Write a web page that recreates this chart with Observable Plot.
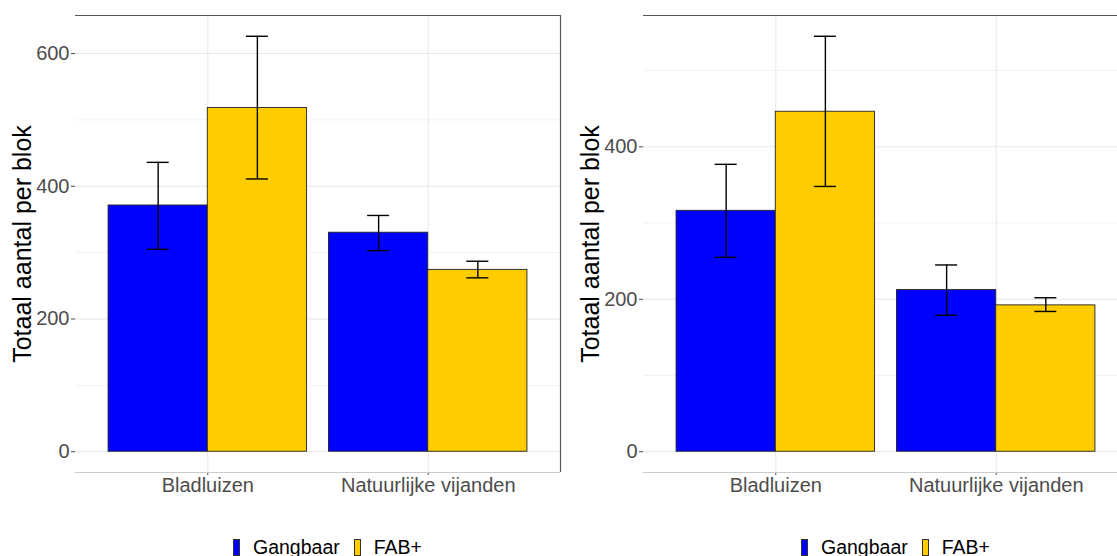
<!DOCTYPE html>
<html><head><meta charset="utf-8">
<script src="https://cdn.jsdelivr.net/npm/d3@7"></script>
<script src="https://cdn.jsdelivr.net/npm/@observablehq/plot@0.6"></script>
<style>
html,body{margin:0;padding:0;background:#fff;overflow:hidden;width:1117px;height:556px;}
#wrap{display:flex;flex-wrap:nowrap;width:1136px;}
.fig{width:568px;height:556px;flex:none;position:relative;}
.fig svg{display:block;}
.legend{position:absolute;left:233px;top:536px;height:22px;display:flex;align-items:center;font:19.5px "Liberation Sans",Arial,sans-serif;color:#000;white-space:nowrap;}
.key{display:inline-block;width:5px;height:15px;border:1px solid #333;margin-right:13px;}
.lab{margin-right:14px;}
</style></head><body><div id="wrap"></div>
<script>
const categories = ["Bladluizen", "Natuurlijke vijanden"];
const series = ["Gangbaar", "FAB+"];
const colors = ["#0000FF", "#FFCC00"];
const yTitle = "Totaal aantal per blok";

// Panel A (left)
const aGangbaarMean = [371, 330], aGangbaarLow = [305, 303], aGangbaarHigh = [436, 356];
const aFabMean = [518, 274], aFabLow = [411, 262], aFabHigh = [626, 287];
const aTicks = [0, 200, 400, 600], aMinor = [100, 300, 500];

// Panel B (right)
const bGangbaarMean = [316, 212], bGangbaarLow = [255, 179], bGangbaarHigh = [377, 245];
const bFabMean = [446, 192], bFabLow = [348, 184], bFabHigh = [545, 202];
const bTicks = [0, 200, 400], bMinor = [100, 300, 500];

const dodge = 0.9, capW = 0.1;

function rowsFor(gm, gl, gh, fm, fl, fh) {
  const rows = [];
  const vals = [[gm, gl, gh], [fm, fl, fh]];
  categories.forEach((c, i) => {
    series.forEach((s, j) => {
      const x1 = i + 1 - dodge / 2 + j * dodge / 2;
      rows.push({cat: c, series: s, x1, x2: x1 + dodge / 2, xc: x1 + dodge / 4,
        mean: vals[j][0][i], lo: vals[j][1][i], hi: vals[j][2][i]});
    });
  });
  return rows;
}

function makeFig(rows, ticks, minor) {
  const max = d3.max(rows, d => d.hi);
  const ydom = [-0.05 * max, 1.05 * max];
  const xdom = [0.4, categories.length + 0.6];
  const plot = Plot.plot({
    width: 568, height: 500,
    marginLeft: 75, marginRight: 8, marginTop: 15, marginBottom: 28,
    style: {fontFamily: '"Liberation Sans", Arial, sans-serif', fontSize: "17px", color: "#4d4d4d", background: "#fff"},
    x: {domain: xdom, ticks: categories.map((c, i) => i + 1), tickFormat: d => categories[d - 1], tickSize: 3, tickPadding: 2, label: null},
    y: {domain: ydom, ticks: ticks, tickSize: 4, tickPadding: 2, label: null},
    color: {domain: series, range: colors},
    marks: [
      Plot.ruleY(minor.filter(v => v < ydom[1]), {stroke: "#f2f2f2", strokeWidth: 1}),
      Plot.ruleY(ticks, {stroke: "#e6e6e6", strokeWidth: 1}),
      Plot.ruleX(categories.map((c, i) => i + 1), {stroke: "#e6e6e6", strokeWidth: 1}),
      Plot.ruleY([ydom[0]], {stroke: "#cccccc", strokeWidth: 1.2}),
      Plot.ruleY([ydom[1]], {stroke: "#555555", strokeWidth: 1.2}),
      Plot.ruleX([xdom[1]], {stroke: "#555555", strokeWidth: 1.2}),
      Plot.rect(rows, {x1: "x1", x2: "x2", y1: d => 0, y2: "mean", fill: "series", stroke: "#222", strokeWidth: 0.9}),
      Plot.ruleX(rows, {x: "xc", y1: "lo", y2: "hi", stroke: "#000", strokeWidth: 1.4}),
      Plot.ruleY(rows, {y: "hi", x1: d => d.xc - capW / 2, x2: d => d.xc + capW / 2, stroke: "#000", strokeWidth: 1.4}),
      Plot.ruleY(rows, {y: "lo", x1: d => d.xc - capW / 2, x2: d => d.xc + capW / 2, stroke: "#000", strokeWidth: 1.4}),
      Plot.text([yTitle], {text: d => d, frameAnchor: "left", textAnchor: "middle", rotate: -90, dx: -53, fontSize: 25, fill: "#000"})
    ]
  });
  d3.select(plot).selectAll('g[aria-label^="x-axis"] text').attr("font-size", 20);
  d3.select(plot).selectAll('g[aria-label^="y-axis"] text').attr("font-size", 20);
  const fig = document.createElement("div");
  fig.className = "fig";
  fig.appendChild(plot);
  const leg = document.createElement("div");
  leg.className = "legend";
  series.forEach((s, j) => {
    const k = document.createElement("span");
    k.className = "key";
    k.style.background = colors[j];
    const t = document.createElement("span");
    t.className = "lab";
    t.textContent = s;
    leg.appendChild(k); leg.appendChild(t);
  });
  fig.appendChild(leg);
  return fig;
}

const wrap = document.getElementById("wrap");
wrap.appendChild(makeFig(rowsFor(aGangbaarMean, aGangbaarLow, aGangbaarHigh, aFabMean, aFabLow, aFabHigh), aTicks, aMinor));
wrap.appendChild(makeFig(rowsFor(bGangbaarMean, bGangbaarLow, bGangbaarHigh, bFabMean, bFabLow, bFabHigh), bTicks, bMinor));
</script>
</body></html>
